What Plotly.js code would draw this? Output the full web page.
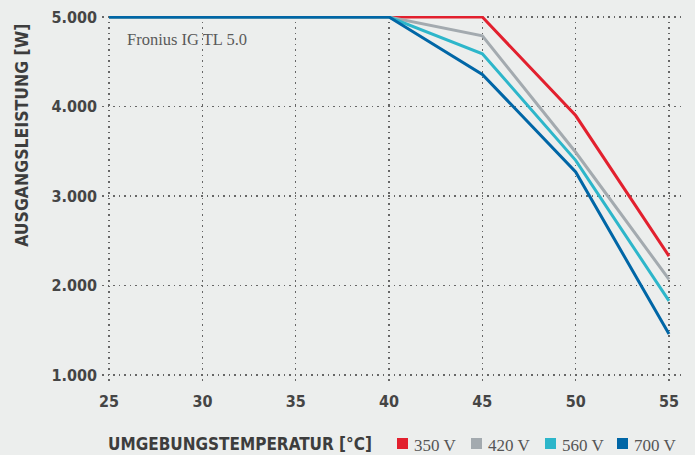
<!DOCTYPE html>
<html>
<head>
<meta charset="utf-8">
<script src="https://cdn.plot.ly/plotly-3.0.1.min.js"></script>
<style>
  html, body { margin: 0; padding: 0; background: #eceeed; }
  #chart { width: 695px; height: 455px; }
</style>
</head>
<body>
<div id="chart"></div>
<script>
const temperatures = [25, 30, 35, 40, 45, 50, 55];
const v350 = [5000, 5000, 5000, 5000, 5000, 3900, 2330];
const v420 = [5000, 5000, 5000, 5000, 4790, 3490, 2070];
const v560 = [5000, 5000, 5000, 5000, 4590, 3400, 1830];
const v700 = [5000, 5000, 5000, 5000, 4360, 3270, 1460];
const seriesNames = ['350 V', '420 V', '560 V', '700 V'];
const seriesColors = ['#e2202e', '#a3aaaf', '#2db6ca', '#0066a6'];
const seriesValues = [v350, v420, v560, v700];
const yTicks = [1000, 2000, 3000, 4000, 5000];

const labelFont = 'DejaVu Sans Condensed, DejaVu Sans, sans-serif';
const serifFont = 'Liberation Serif, DejaVu Serif, serif';

// plot-area geometry (pixels) used to place the custom legend
const W = 695, H = 455;
const M = { l: 102, r: 12, t: 16, b: 70 };
const plotW = W - M.l - M.r, plotH = H - M.t - M.b;
const px2paperX = px => (px - M.l) / plotW;
const px2paperY = py => (H - M.b - py) / plotH;

const traces = seriesValues.map((vals, i) => ({
  x: temperatures, y: vals, type: 'scatter', mode: 'lines',
  line: { color: seriesColors[i], width: 3 },
  name: seriesNames[i], showlegend: false, hoverinfo: 'skip'
}));

// legend built from series names/colours
const legendLeft = [397, 471, 545, 617];
const legendY = 443.5, sq = 11;
const shapes = [], legendAnn = [];
seriesNames.forEach((name, i) => {
  shapes.push({
    type: 'rect', xref: 'paper', yref: 'paper', layer: 'above',
    x0: px2paperX(legendLeft[i]), x1: px2paperX(legendLeft[i] + sq),
    y0: px2paperY(legendY + sq / 2), y1: px2paperY(legendY - sq / 2),
    fillcolor: seriesColors[i], line: { width: 0 }
  });
  legendAnn.push({
    text: name, xref: 'paper', yref: 'paper',
    x: px2paperX(legendLeft[i] + sq + 4), y: px2paperY(legendY + 1.5),
    xanchor: 'left', yanchor: 'middle', showarrow: false,
    font: { family: serifFont, size: 17, color: '#555' }
  });
});

const gridStyle = { showgrid: true, gridcolor: '#666', griddash: '1.5px,4px', gridwidth: 1.5 };

const layout = {
  width: W, height: H,
  paper_bgcolor: '#eceeed', plot_bgcolor: '#eceeed',
  margin: M,
  separators: ',.',
  showlegend: false,
  xaxis: Object.assign({
    range: [24.62, 55.75], tickvals: temperatures, ticktext: temperatures.map(String),
    zeroline: false, showline: false, ticks: '', ticklabelstandoff: 5,
    tickfont: { family: labelFont, size: 16, color: '#454545', weight: 'bold' }
  }, gridStyle),
  yaxis: Object.assign({
    range: [890, 5012], tickvals: yTicks, tickformat: ',d',
    zeroline: false, showline: false, ticks: '', ticklabelstandoff: 4,
    tickfont: { family: labelFont, size: 16, color: '#454545', weight: 'bold' }
  }, gridStyle),
  shapes: shapes,
  annotations: [
    {
      text: 'Fronius IG TL 5.0', xref: 'x', yref: 'y', x: 25.85, y: 4750,
      xanchor: 'left', yanchor: 'middle', showarrow: false,
      font: { family: serifFont, size: 16.5, color: '#5a5a5a' }
    },
    {
      text: 'AUSGANGSLEISTUNG [W]', xref: 'paper', yref: 'paper',
      x: -0.138, y: px2paperY(135), xanchor: 'center', yanchor: 'middle', textangle: -90,
      showarrow: false, font: { family: labelFont, size: 17.5, color: '#3d3d3d', weight: 'bold' }
    },
    {
      text: 'UMGEBUNGSTEMPERATUR [°C]', xref: 'paper', yref: 'paper',
      x: px2paperX(106), y: px2paperY(444), xanchor: 'left', yanchor: 'middle',
      showarrow: false, font: { family: labelFont, size: 17, color: '#3d3d3d', weight: 'bold' }
    }
  ].concat(legendAnn)
};

Plotly.newPlot('chart', traces, layout, { displayModeBar: false, staticPlot: true });
</script>
</body>
</html>
